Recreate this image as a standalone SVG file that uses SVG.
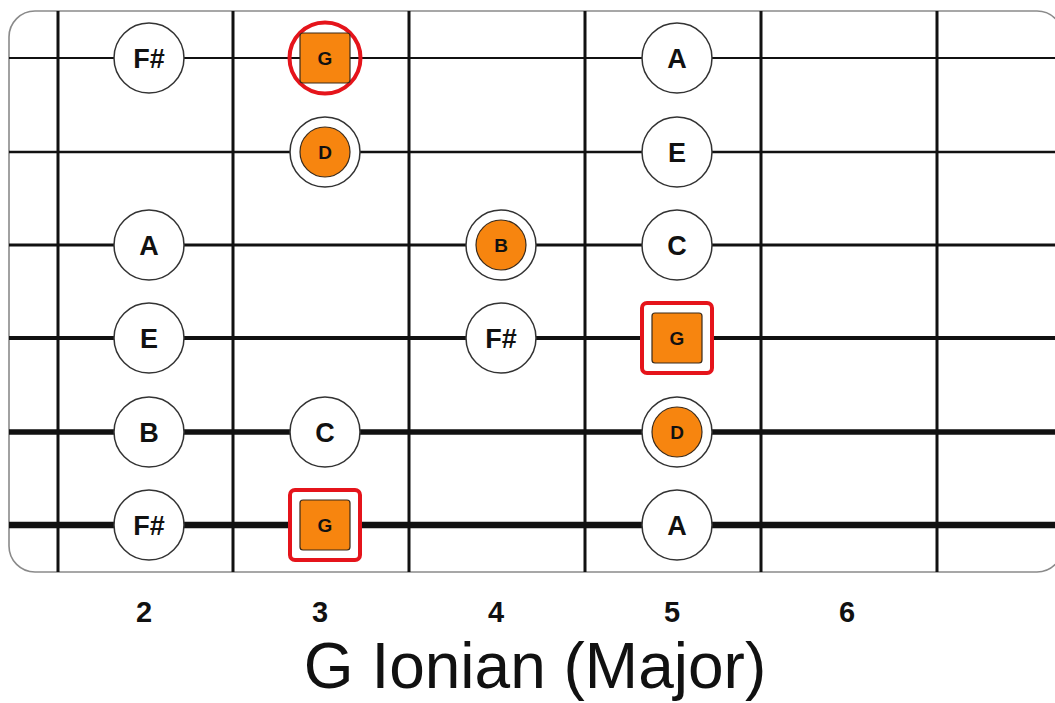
<svg xmlns="http://www.w3.org/2000/svg" width="1055" height="703" viewBox="0 0 1055 703">
  <style>
    .board { fill: #ffffff; stroke: #8a8a8a; stroke-width: 1.6; }
    .fret { stroke: #111111; stroke-width: 3; }
    .string { stroke: #111111; }
    .note { fill: #ffffff; stroke: #333333; stroke-width: 1.5; }
    .root-in { fill: #f7850f; stroke: #3a2a1a; stroke-width: 1.2; }
    .ring { fill: none; stroke: #e5141b; stroke-width: 4; }
    .lbl { font-family: "Liberation Sans", Arial, sans-serif; font-weight: bold; fill: #111111; text-anchor: middle; }
    .big { font-size: 27px; }
    .small { font-size: 19px; }
    .num { font-family: "Liberation Sans", Arial, sans-serif; font-weight: bold; font-size: 29px; fill: #111111; text-anchor: middle; }
    .title { font-family: "Liberation Sans", Arial, sans-serif; font-size: 64px; fill: #111111; text-anchor: middle; }
  </style>

  <rect width="1055" height="703" fill="#ffffff"/>

  <!-- fretboard outline -->
  <rect class="board" x="9" y="11" width="1054" height="561" rx="26" ry="26"/>

  <g id="connectors">
    <!-- frets -->
    <line class="fret" x1="58" y1="11" x2="58" y2="572"/>
    <line class="fret" x1="233" y1="11" x2="233" y2="572"/>
    <line class="fret" x1="409" y1="11" x2="409" y2="572"/>
    <line class="fret" x1="585" y1="11" x2="585" y2="572"/>
    <line class="fret" x1="761" y1="11" x2="761" y2="572"/>
    <line class="fret" x1="937" y1="11" x2="937" y2="572"/>
    <!-- strings, thin to thick -->
    <line class="string" x1="9" y1="58" x2="1055" y2="58" stroke-width="1.8"/>
    <line class="string" x1="9" y1="152" x2="1055" y2="152" stroke-width="2.4"/>
    <line class="string" x1="9" y1="245" x2="1055" y2="245" stroke-width="3.2"/>
    <line class="string" x1="9" y1="338" x2="1055" y2="338" stroke-width="4.2"/>
    <line class="string" x1="9" y1="432" x2="1055" y2="432" stroke-width="5.4"/>
    <line class="string" x1="9" y1="525" x2="1055" y2="525" stroke-width="6.4"/>
  </g>

  <!-- string 1 -->
  <g id="s1-fs"><circle class="note" cx="149" cy="58" r="35"/><text class="lbl big" x="149" y="67.5">F#</text></g>
  <g id="s1-g">
    <circle class="ring" cx="325" cy="58" r="35.5"/>
    <rect class="root-in" x="300" y="33" width="50" height="50" rx="3"/>
    <text class="lbl small" x="325" y="65">G</text>
  </g>
  <g id="s1-a"><circle class="note" cx="677" cy="58" r="35"/><text class="lbl big" x="677" y="67.5">A</text></g>

  <!-- string 2 -->
  <g id="s2-d">
    <circle class="note" cx="325" cy="152" r="35"/>
    <circle class="root-in" cx="325" cy="152" r="25"/>
    <text class="lbl small" x="325" y="159">D</text>
  </g>
  <g id="s2-e"><circle class="note" cx="677" cy="152" r="35"/><text class="lbl big" x="677" y="161.5">E</text></g>

  <!-- string 3 -->
  <g id="s3-a"><circle class="note" cx="149" cy="245" r="35"/><text class="lbl big" x="149" y="254.5">A</text></g>
  <g id="s3-b">
    <circle class="note" cx="501" cy="245" r="35"/>
    <circle class="root-in" cx="501" cy="245" r="25"/>
    <text class="lbl small" x="501" y="252">B</text>
  </g>
  <g id="s3-c"><circle class="note" cx="677" cy="245" r="35"/><text class="lbl big" x="677" y="254.5">C</text></g>

  <!-- string 4 -->
  <g id="s4-e"><circle class="note" cx="149" cy="338" r="35"/><text class="lbl big" x="149" y="347.5">E</text></g>
  <g id="s4-fs"><circle class="note" cx="501" cy="338" r="35"/><text class="lbl big" x="501" y="347.5">F#</text></g>
  <g id="s4-g">
    <rect x="642" y="303" width="70" height="70" rx="5" fill="#ffffff" stroke="#e5141b" stroke-width="4"/>
    <rect class="root-in" x="652" y="313" width="50" height="50" rx="3"/>
    <text class="lbl small" x="677" y="345">G</text>
  </g>

  <!-- string 5 -->
  <g id="s5-b"><circle class="note" cx="149" cy="432" r="35"/><text class="lbl big" x="149" y="441.5">B</text></g>
  <g id="s5-c"><circle class="note" cx="325" cy="432" r="35"/><text class="lbl big" x="325" y="441.5">C</text></g>
  <g id="s5-d">
    <circle class="note" cx="677" cy="432" r="35"/>
    <circle class="root-in" cx="677" cy="432" r="25"/>
    <text class="lbl small" x="677" y="439">D</text>
  </g>

  <!-- string 6 -->
  <g id="s6-fs"><circle class="note" cx="149" cy="525" r="35"/><text class="lbl big" x="149" y="534.5">F#</text></g>
  <g id="s6-g">
    <rect x="290" y="490" width="70" height="70" rx="5" fill="#ffffff" stroke="#e5141b" stroke-width="4"/>
    <rect class="root-in" x="300" y="500" width="50" height="50" rx="3"/>
    <text class="lbl small" x="325" y="532">G</text>
  </g>
  <g id="s6-a"><circle class="note" cx="677" cy="525" r="35"/><text class="lbl big" x="677" y="534.5">A</text></g>

  <!-- fret numbers -->
  <g id="fret-numbers">
    <text class="num" x="144" y="622">2</text>
    <text class="num" x="320" y="622">3</text>
    <text class="num" x="496" y="622">4</text>
    <text class="num" x="672" y="622">5</text>
    <text class="num" x="847" y="622">6</text>
  </g>

  <g id="title">
    <text class="title" x="535" y="688">G Ionian (Major)</text>
  </g>
</svg>
